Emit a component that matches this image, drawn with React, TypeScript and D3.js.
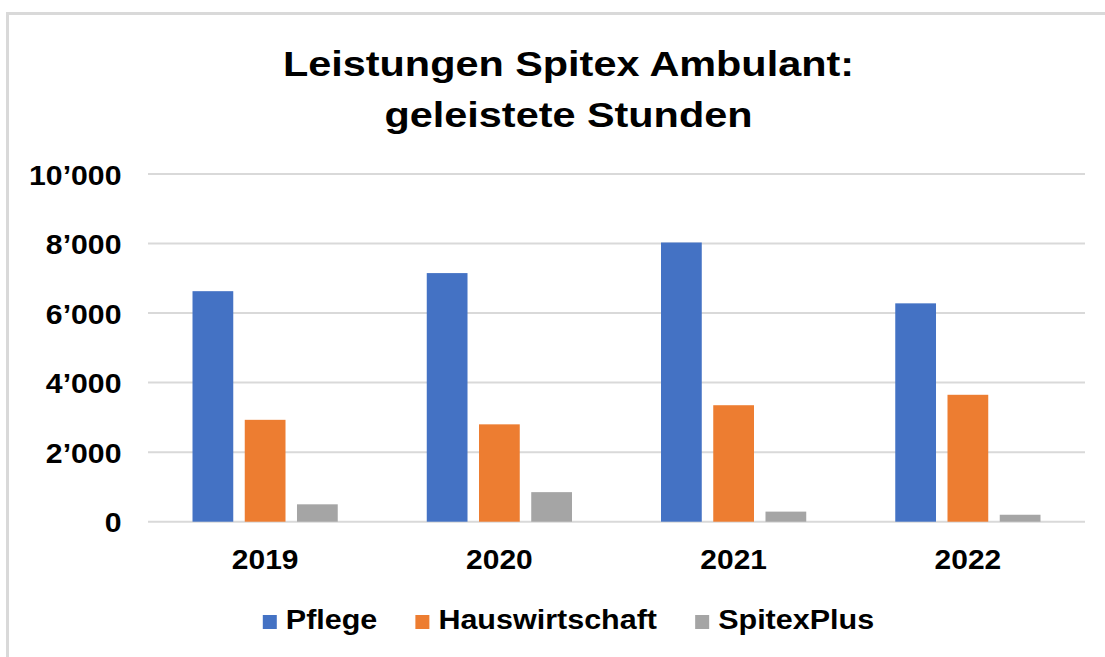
import * as d3 from 'd3';
import { useMemo } from 'react';

const years = ['2019', '2020', '2021', '2022'];
const seriesNames = ['Pflege', 'Hauswirtschaft', 'SpitexPlus'];
const pflege = [6630, 7150, 8030, 6280];
const hauswirtschaft = [2930, 2800, 3350, 3650];
const spitexPlus = [500, 850, 290, 200];
const yTicks = [0, 2000, 4000, 6000, 8000, 10000];
const colors = ['#4472c4', '#ed7d31', '#a5a5a5'];

const W = 1105;
const H = 657;
const FONT = "'Liberation Sans', Arial, sans-serif";
const CX = 568.5; // centre for title and legend

const fmt = d3.formatLocale({ decimal: '.', thousands: '\u2019', grouping: [3], currency: ['', ''] }).format(',');

// the screenshot is a bit stretched horizontally, so text gets an x-scale
const measure = (txt: string, size: number) => {
  const ctx = document.createElement('canvas').getContext('2d');
  if (!ctx) return txt.length * size * 0.6;
  ctx.font = `bold ${size}px ${FONT}`;
  return ctx.measureText(txt).width;
};

export default function App() {
  const values = [pflege, hauswirtschaft, spitexPlus];

  const x0 = d3.scaleBand<string>().domain(years).range([148, 1085]).paddingInner(0.38).paddingOuter(0.19);
  const x1 = d3.scaleBand<string>().domain(seriesNames).range([0, x0.bandwidth()]).paddingInner(0.22);
  const y = d3.scaleLinear().domain([0, 10000]).range([521.7, 174]);

  const legend = useMemo(() => {
    const sw = 14, gap = 9, between = 38, sx = 1.09;
    const widths = seriesNames.map(s => measure(s, 28) * sx);
    const total = widths.reduce((a, w) => a + w + sw + gap, 0) + between * (seriesNames.length - 1);
    let pos = CX - total / 2;
    return seriesNames.map((s, i) => {
      const item = { name: s, x: pos, color: colors[i] };
      pos += sw + gap + widths[i] + between;
      return item;
    });
  }, []);

  return (
    <svg width={W} height={H} style={{ position: 'absolute', left: 0, top: 0, background: '#fff' }}
      fontFamily={FONT} fontWeight="bold">
      <rect width={W} height={H} fill="#fff" />
      {/* chart frame */}
      <path d={`M7.5,${H} V13.5 H${W}`} fill="none" stroke="#d9d9d9" strokeWidth={3} />

      {/* title */}
      <text transform={`translate(${CX},75.7) scale(1.15,1)`} textAnchor="middle" fontSize={36} fill="#000">
        Leistungen Spitex Ambulant:
      </text>
      <text transform={`translate(${CX},127) scale(1.15,1)`} textAnchor="middle" fontSize={36} fill="#000">
        geleistete Stunden
      </text>

      {/* gridlines + y labels */}
      {yTicks.map(t => (
        <g key={t}>
          <line x1={148} x2={1085} y1={y(t)} y2={y(t)} stroke="#d9d9d9" strokeWidth={2} />
          <text transform={`translate(121.5,${y(t) + 10.5}) scale(1.12,1)`} textAnchor="end" fontSize={27} fill="#000">
            {fmt(t)}
          </text>
        </g>
      ))}

      {/* bars */}
      {years.map((yr, i) => (
        <g key={yr} transform={`translate(${x0(yr)},0)`}>
          {seriesNames.map((s, j) => (
            <rect key={s} x={x1(s)} y={y(values[j][i])} width={x1.bandwidth()}
              height={y(0) - y(values[j][i])} fill={colors[j]} />
          ))}
        </g>
      ))}

      {/* x labels */}
      {years.map(yr => (
        <text key={yr} transform={`translate(${(x0(yr) ?? 0) + x0.bandwidth() / 2},569) scale(1.07,1)`}
          textAnchor="middle" fontSize={28} fill="#000">
          {yr}
        </text>
      ))}

      {/* legend */}
      {legend.map(l => (
        <g key={l.name}>
          <rect x={l.x} y={615} width={14} height={14} fill={l.color} />
          <text transform={`translate(${l.x + 23},629) scale(1.09,1)`} fontSize={28} fill="#000">
            {l.name}
          </text>
        </g>
      ))}
    </svg>
  );
}
